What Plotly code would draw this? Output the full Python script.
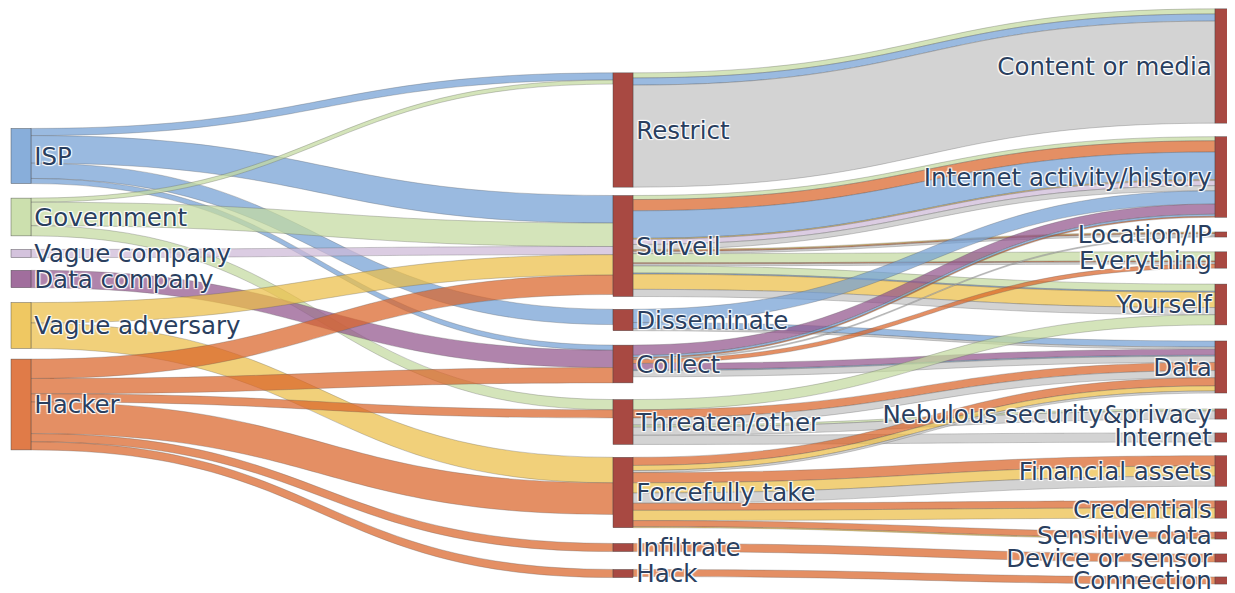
import plotly.graph_objects as go

# nodes, three columns
actors = ["ISP", "Government", "Vague company", "Data company", "Vague adversary", "Hacker"]
actions = ["Restrict", "Surveil", "Disseminate", "Collect", "Threaten/other",
           "Forcefully take", "Infiltrate", "Hack"]
targets = ["Content or media", "Internet activity/history", "Location/IP", "Everything",
           "Yourself", "Data", "Nebulous security&privacy", "Internet", "Financial assets",
           "Credentials", "Sensitive data", "Device or sensor", "Connection"]

# actor -> action (actor, action, value)
actor_action = [
    ("ISP", "Restrict", 7), ("ISP", "Surveil", 27), ("ISP", "Disseminate", 15), ("ISP", "Collect", 5),
    ("Government", "Restrict", 4), ("Government", "Surveil", 23), ("Government", "Threaten/other", 10),
    ("Vague company", "Surveil", 8),
    ("Data company", "Collect", 17),
    ("Vague adversary", "Surveil", 20), ("Vague adversary", "Forcefully take", 25),
    ("Hacker", "Surveil", 19), ("Hacker", "Collect", 15), ("Hacker", "Threaten/other", 8),
    ("Hacker", "Forcefully take", 31), ("Hacker", "Infiltrate", 8), ("Hacker", "Hack", 8),
]

# action -> target (action, target, actor or None, value)
action_target = [
    ("Restrict", "Content or media", "Government", 5),
    ("Restrict", "Content or media", "ISP", 7),
    ("Restrict", "Content or media", None, 100),
    ("Surveil", "Internet activity/history", "Government", 4),
    ("Surveil", "Internet activity/history", "Hacker", 11),
    ("Surveil", "Internet activity/history", "ISP", 27),
    ("Surveil", "Internet activity/history", "Vague adversary", 1),
    ("Surveil", "Internet activity/history", "Vague company", 5),
    ("Surveil", "Internet activity/history", None, 5),
    ("Surveil", "Location/IP", "Vague adversary", 1),
    ("Surveil", "Location/IP", "Hacker", 1),
    ("Surveil", "Location/IP", None, 2),
    ("Surveil", "Everything", "Government", 9),
    ("Surveil", "Everything", "Hacker", 1),
    ("Surveil", "Everything", None, 2),
    ("Surveil", "Yourself", "Government", 7),
    ("Surveil", "Yourself", "ISP", 1),
    ("Surveil", "Yourself", "Vague adversary", 15),
    ("Surveil", "Yourself", None, 7),
    ("Disseminate", "Internet activity/history", "ISP", 13),
    ("Disseminate", "Data", "ISP", 6),
    ("Disseminate", "Data", None, 2),
    ("Collect", "Internet activity/history", "Data company", 10),
    ("Collect", "Internet activity/history", "ISP", 2),
    ("Collect", "Internet activity/history", "Hacker", 1),
    ("Collect", "Location/IP", None, 1),
    ("Collect", "Everything", "Hacker", 4),
    ("Collect", "Data", "Data company", 6),
    ("Collect", "Data", "ISP", 1),
    ("Collect", "Data", None, 6),
    ("Threaten/other", "Yourself", "Government", 10),
    ("Threaten/other", "Data", "Hacker", 8),
    ("Threaten/other", "Data", None, 7),
    ("Threaten/other", "Nebulous security&privacy", "Government", 2),
    ("Threaten/other", "Nebulous security&privacy", None, 8),
    ("Threaten/other", "Internet", None, 9),
    ("Forcefully take", "Data", "Hacker", 8),
    ("Forcefully take", "Data", "Vague adversary", 5),
    ("Forcefully take", "Data", None, 2),
    ("Forcefully take", "Financial assets", "Hacker", 10),
    ("Forcefully take", "Financial assets", "Vague adversary", 10),
    ("Forcefully take", "Financial assets", None, 10),
    ("Forcefully take", "Credentials", "Hacker", 7),
    ("Forcefully take", "Credentials", "Vague adversary", 10),
    ("Forcefully take", "Sensitive data", "Hacker", 6),
    ("Forcefully take", "Sensitive data", "Vague adversary", 1),
    ("Infiltrate", "Device or sensor", "Hacker", 8),
    ("Hack", "Connection", "Hacker", 7),
]

# colours
actor_colors = {
    "ISP": (115, 160, 212),
    "Government": (195, 218, 160),
    "Vague company": (205, 185, 215),
    "Data company": (145, 85, 140),
    "Vague adversary": (236, 190, 70),
    "Hacker": (218, 100, 40),
}
gray = (200, 200, 200)
red_node = "rgb(168,73,66)"

def rgba(c, a):
    return "rgba(%d,%d,%d,%s)" % (c[0], c[1], c[2], a)

# node placement (page layout, not data): column x and node centre y (in px of the page)
W, H = 1227, 585
col_x = {0: 21, 1: 623, 2: 1225}
center_y = {
    "ISP": 156, "Government": 217, "Vague company": 253.5, "Data company": 279,
    "Vague adversary": 325.5, "Hacker": 404.5,
    "Restrict": 130, "Surveil": 246, "Disseminate": 320, "Collect": 364,
    "Threaten/other": 422, "Forcefully take": 492.5, "Infiltrate": 547.5, "Hack": 573.5,
    "Content or media": 66, "Internet activity/history": 177, "Location/IP": 234.5,
    "Everything": 260, "Yourself": 304.5, "Data": 367, "Nebulous security&privacy": 414,
    "Internet": 437.5, "Financial assets": 471, "Credentials": 509.5, "Sensitive data": 535.5,
    "Device or sensor": 558, "Connection": 580.5,
}
top, bottom = 2, 4
plot_h = H - top - bottom

labels = actors + actions + targets
idx = {name: i for i, name in enumerate(labels)}
column = [0] * len(actors) + [1] * len(actions) + [2] * len(targets)
node_x = [(col_x[c] - 8) / W for c in column]
node_y = [(center_y[n] - 8 - top) / plot_h for n in labels]

node_colors = [rgba(actor_colors[a], 0.85) for a in actors] + [red_node] * (len(actions) + len(targets))

src, tgt, val, col = [], [], [], []
for a, b, v in actor_action:
    src.append(idx[a]); tgt.append(idx[b]); val.append(v)
    col.append(rgba(actor_colors[a], 0.72))
for a, b, who, v in action_target:
    src.append(idx[a]); tgt.append(idx[b]); val.append(v)
    col.append(rgba(actor_colors[who], 0.72) if who else rgba(gray, 0.8))

fig = go.Figure(go.Sankey(
    arrangement="fixed",
    node=dict(label=labels, color=node_colors, pad=15, thickness=20,
              x=node_x, y=node_y,
              line=dict(color="rgba(60,60,60,0.8)", width=0.5)),
    link=dict(source=src, target=tgt, value=val, color=col,
              line=dict(color="rgba(90,90,90,0.6)", width=0.5)),
    textfont=dict(family="DejaVu Sans", size=24.5, color="#2a3f5f"),
))

fig.update_layout(
    width=W, height=H,
    margin=dict(l=0, r=0, t=top, b=bottom),
    paper_bgcolor="white",
)

fig.write_html("out.html")
